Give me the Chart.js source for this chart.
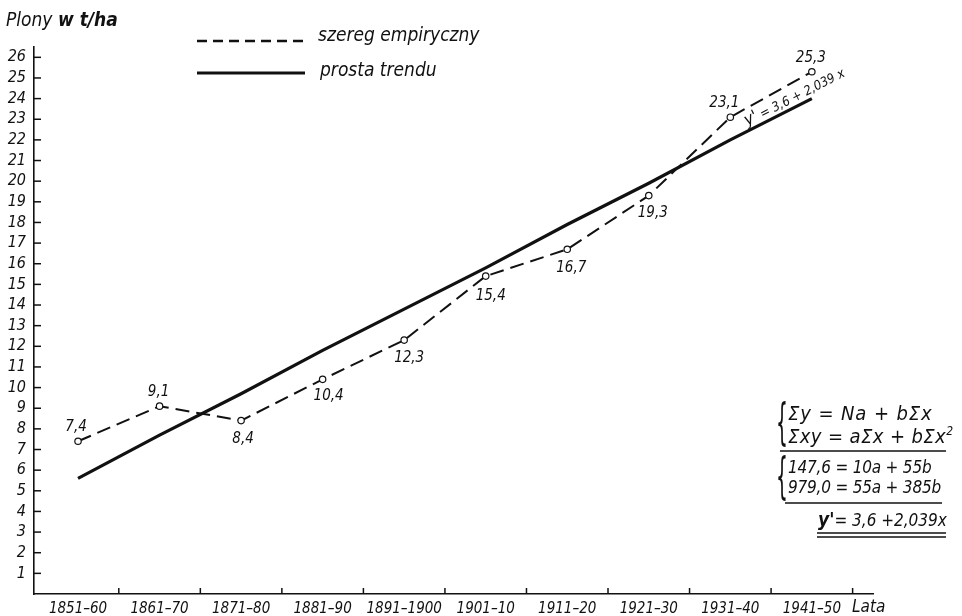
<!DOCTYPE html>
<html lang="pl">
<head>
<meta charset="utf-8">
<title>Plony w t/ha</title>
<script src="https://cdn.jsdelivr.net/npm/chart.js@4.4.1/dist/chart.umd.min.js"></script>
<style>
body { margin: 0; background: #fff; }
#wrap {
    position: relative; width: 962px; height: 616px; color: #111;
    font-family: 'DejaVu Sans Condensed', 'DejaVu Sans', sans-serif; font-style: italic;
}
#wrap canvas, #wrap svg { position: absolute; left: 0; top: 0; }
.txt { position: absolute; white-space: nowrap; line-height: 1; font-size: 18px; }
.brace { position: absolute; line-height: 1; font-size: 26px; font-style: normal; transform: scale(0.8, 1.9); transform-origin: 0 0; }
sup { font-size: 12px; vertical-align: 8px; line-height: 0; }
</style>
</head>
<body>
<div id="wrap">
    <canvas id="chart" width="962" height="616"></canvas>
    <svg width="962" height="616">
        <!-- legend keys -->
        <line x1="197" y1="41" x2="305" y2="41" stroke="#111" stroke-width="2.4" stroke-dasharray="10 6"/>
        <line x1="197" y1="73" x2="305" y2="73" stroke="#111" stroke-width="3.2"/>
        <!-- formula rules -->
        <line x1="780" y1="451" x2="946" y2="451" stroke="#111" stroke-width="1.5"/>
        <line x1="785" y1="503" x2="942" y2="503" stroke="#111" stroke-width="1.5"/>
        <line x1="817" y1="533" x2="946" y2="533" stroke="#111" stroke-width="1.5"/>
        <line x1="817" y1="537" x2="946" y2="537" stroke="#111" stroke-width="1.5"/>
    </svg>
    <div class="txt" style="left:6px;top:10px;font-size:19px">Plony <b>w t/ha</b></div>
    <div class="txt" style="left:318px;top:25px;font-size:19px">szereg empiryczny</div>
    <div class="txt" style="left:320px;top:60px;font-size:19px">prosta trendu</div>

    <div class="brace" style="left:776px;top:397px">{</div>
    <div class="txt" style="left:788px;top:403px;font-size:20px;letter-spacing:0.9px">Σy = Na + bΣx</div>
    <div class="txt" style="left:788px;top:426px;font-size:20px;letter-spacing:0.4px">Σxy = aΣx + bΣx<sup>2</sup></div>
    <div class="brace" style="left:776px;top:451px">{</div>
    <div class="txt" style="left:788px;top:459px;font-size:17px;letter-spacing:-0.2px">147,6 = 10a + 55b</div>
    <div class="txt" style="left:788px;top:479px;font-size:17px;letter-spacing:-0.2px">979,0 = 55a + 385b</div>
    <div class="txt" style="left:818px;top:510px;font-size:17px"><b style="font-size:19px">y'</b>= 3,6 +2,039x</div>
</div>
<script>
const periods = ['1851–60', '1861–70', '1871–80', '1881–90', '1891–1900',
    '1901–10', '1911–20', '1921–30', '1931–40', '1941–50'];
const yields = [7.4, 9.1, 8.4, 10.4, 12.3, 15.4, 16.7, 19.3, 23.1, 25.3];
const trend = [5.6, 7.7, 9.7, 11.8, 13.8, 15.8, 17.9, 19.9, 22.0, 24.0];
const yTicks = [1, 2, 3, 4, 5, 6, 7, 8, 9, 10, 11, 12, 13, 14, 15, 16, 17, 18, 19, 20, 21, 22, 23, 24, 25, 26];
const periodBounds = [1, 2, 3, 4, 5, 6, 7, 8, 9, 10];

// where each value label sits relative to its point
const labelOffsets = [[-2, -14], [-1, -14], [2, 18], [6, 17], [5, 18],
    [5, 20], [4, 19], [4, 17], [-6, -14], [-1, -14]];

const FONT = "'DejaVu Sans Condensed', 'DejaVu Sans', sans-serif";
Chart.defaults.font.family = FONT;
Chart.defaults.font.style = 'italic';
Chart.defaults.font.size = 15;
Chart.defaults.color = '#111';

const fmt = v => v.toFixed(1).replace('.', ',');

const annotate = {
    id: 'annotate',
    afterDatasetsDraw(chart) {
        const { ctx, scales: { x, y } } = chart;
        ctx.save();
        ctx.strokeStyle = '#111';
        ctx.lineWidth = 1.5;

        // tick marks point inward
        yTicks.forEach(v => {
            const py = y.getPixelForValue(v);
            ctx.beginPath();
            ctx.moveTo(x.left, py);
            ctx.lineTo(x.left + 7, py);
            ctx.stroke();
        });
        periodBounds.forEach(v => {
            const px = x.getPixelForValue(v);
            ctx.beginPath();
            ctx.moveTo(px, y.bottom);
            ctx.lineTo(px, y.bottom - 6);
            ctx.stroke();
        });

        ctx.fillStyle = '#111';
        ctx.textAlign = 'center';
        ctx.textBaseline = 'middle';
        ctx.font = 'italic 15px ' + FONT;
        yields.forEach((v, i) => {
            const px = x.getPixelForValue(i + 0.5) + labelOffsets[i][0];
            const py = y.getPixelForValue(v) + labelOffsets[i][1];
            ctx.fillText(fmt(v), px, py);
        });

        ctx.textAlign = 'left';
        ctx.textBaseline = 'top';
        ctx.font = 'italic 17px ' + FONT;
        ctx.fillText('Lata', x.right - 21, y.bottom + 5);

        // equation along the trend line
        ctx.translate(x.getPixelForValue(8.5) + 17, y.getPixelForValue(trend[8]) - 14);
        ctx.rotate(-27 * Math.PI / 180);
        ctx.textBaseline = 'alphabetic';
        ctx.fillText("y'", 0, 0);
        const w = ctx.measureText("y'").width;
        ctx.font = 'italic 13px ' + FONT;
        ctx.fillText(' = 3,6 + 2,039 x', w, 0);
        ctx.restore();
    }
};

new Chart(document.getElementById('chart'), {
    type: 'line',
    data: {
        datasets: [{
            label: 'szereg empiryczny',
            data: yields.map((v, i) => ({ x: i + 0.5, y: v })),
            borderColor: '#111',
            borderWidth: 2,
            borderDash: [14, 7],
            pointRadius: 3.2,
            pointBackgroundColor: '#fff',
            pointBorderColor: '#111',
            pointBorderWidth: 1.2,
            tension: 0
        }, {
            label: 'prosta trendu',
            data: trend.map((v, i) => ({ x: i + 0.5, y: v })),
            borderColor: '#111',
            borderWidth: 3.2,
            pointRadius: 0,
            tension: 0
        }]
    },
    options: {
        responsive: false,
        animation: false,
        layout: { padding: { left: 0, right: 89, top: 47, bottom: 0 } },
        plugins: { legend: { display: false }, tooltip: { enabled: false } },
        scales: {
            x: {
                type: 'linear',
                min: -0.04,
                max: 10.25,
                afterBuildTicks: scale => { scale.ticks = periods.map((p, i) => ({ value: i + 0.5 })); },
                afterFit: scale => { scale.height = 22; },
                grid: { display: false, drawTicks: false },
                border: { color: '#111', width: 1.6 },
                ticks: {
                    autoSkip: false, maxRotation: 0, minRotation: 0, padding: 6,
                    callback: (v, i) => periods[i]
                }
            },
            y: {
                min: 0,
                max: 26.5,
                afterBuildTicks: scale => { scale.ticks = yTicks.map(v => ({ value: v })); },
                afterFit: scale => { scale.width = 34; },
                grid: { display: false, drawTicks: false },
                border: { color: '#111', width: 1.6 },
                ticks: { autoSkip: false, padding: 8, font: { size: 16 }, callback: v => String(v) }
            }
        }
    },
    plugins: [annotate]
});
</script>
</body>
</html>
